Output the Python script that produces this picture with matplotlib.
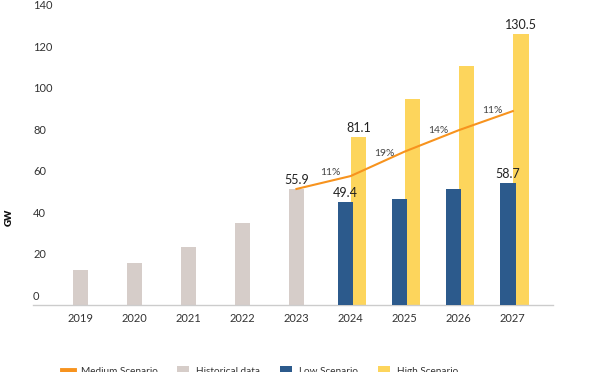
import matplotlib.pyplot as plt
import matplotlib.transforms as mtransforms
from matplotlib.lines import Line2D
from matplotlib.patches import Patch

plt.rcParams['font.family'] = ['Lato', 'DejaVu Sans']

# data
hist_years = [2019, 2020, 2021, 2022, 2023]
hist_vals = [16.9, 20.1, 28.1, 39.7, 55.9]
fc_years = [2024, 2025, 2026, 2027]
low_vals = [49.4, 50.9, 55.8, 58.7]
high_vals = [81.1, 99.3, 115.2, 130.5]
med_years = [2023, 2024, 2025, 2026, 2027]
med_vals = [55.9, 62.1, 73.9, 84.2, 93.4]
med_growth = ['11%', '19%', '14%', '11%']
low_labels = {2024: '49.4', 2027: '58.7'}
high_labels = {2024: '81.1', 2027: '130.5'}
years = hist_years + fc_years
yticks = [0, 20, 40, 60, 80, 100, 120, 140]

c_hist = '#d6cdc9'
c_low = '#2c5a8c'
c_high = '#fdd55c'
c_med = '#f7931e'
c_text = '#333333'

fig = plt.figure(figsize=(6.15, 3.72), dpi=100)
ax = fig.add_axes([0.0537, 0.18, 0.8453, 0.815])

w = 0.28
ax.bar(hist_years, hist_vals, width=w, color=c_hist, zorder=2)
ax.bar([y + 0.15 for y in fc_years], high_vals, width=w, color=c_high, zorder=2)
ax.bar([y - 0.09 for y in fc_years], low_vals, width=w, color=c_low, zorder=3)
ax.plot(med_years, med_vals, color=c_med, lw=1.5, zorder=4)

# growth labels along the medium line
for i, g in enumerate(med_growth):
    xm = (med_years[i] + med_years[i + 1]) / 2
    ym = (med_vals[i] + med_vals[i + 1]) / 2
    ax.text(xm + 0.12, ym + 5, g, ha='center', va='center', fontsize=7.5, color='#444444', zorder=5)

# value labels
ax.text(2023, hist_vals[-1] + 1.5, '55.9', ha='center', va='bottom', fontsize=9, color='#222222')
for yr, lab in low_labels.items():
    v = low_vals[fc_years.index(yr)]
    ax.text(yr - 0.09, v + 1.5, lab, ha='center', va='bottom', fontsize=9, color='#222222')
for yr, lab in high_labels.items():
    v = high_vals[fc_years.index(yr)]
    ax.text(yr + 0.15, v + 1.5, lab, ha='center', va='bottom', fontsize=9, color='#222222')

ax.set_xlim(2018.13, 2027.74)
ax.set_ylim(0, 146)
ax.set_xticks(years)
ax.set_xticklabels([str(y) for y in years], fontsize=8, color=c_text)
ax.tick_params(axis='x', length=0, pad=6)
ax.set_yticks([])
for s in ['top', 'right', 'left']:
    ax.spines[s].set_visible(False)
ax.spines['bottom'].set_color('#cccccc')
ax.spines['bottom'].set_linewidth(1)

trans = mtransforms.blended_transform_factory(ax.transAxes, ax.transData)
for t in yticks:
    ax.text(0, t + 1.5, str(t), transform=trans, ha='left', va='bottom', fontsize=8, color=c_text)

fig.text(0.015, 0.417, 'GW', rotation=90, ha='center', va='center', fontsize=7, fontweight='heavy', color='#111111')

handles = [
    Line2D([0], [0], color=c_med, lw=3.5),
    Patch(facecolor=c_hist),
    Patch(facecolor=c_low),
    Patch(facecolor=c_high),
]
labels = ['Medium Scenario', 'Historical data', 'Low Scenario', 'High Scenario']
fig.legend(handles, labels, loc='center', bbox_to_anchor=(0.423, 0.003), ncol=4, frameon=False,
           fontsize=7.2, handlelength=1.2, handleheight=1.0, columnspacing=2.0, handletextpad=0.7,
           labelcolor=c_text)

fig.savefig('out.png', dpi=100)
